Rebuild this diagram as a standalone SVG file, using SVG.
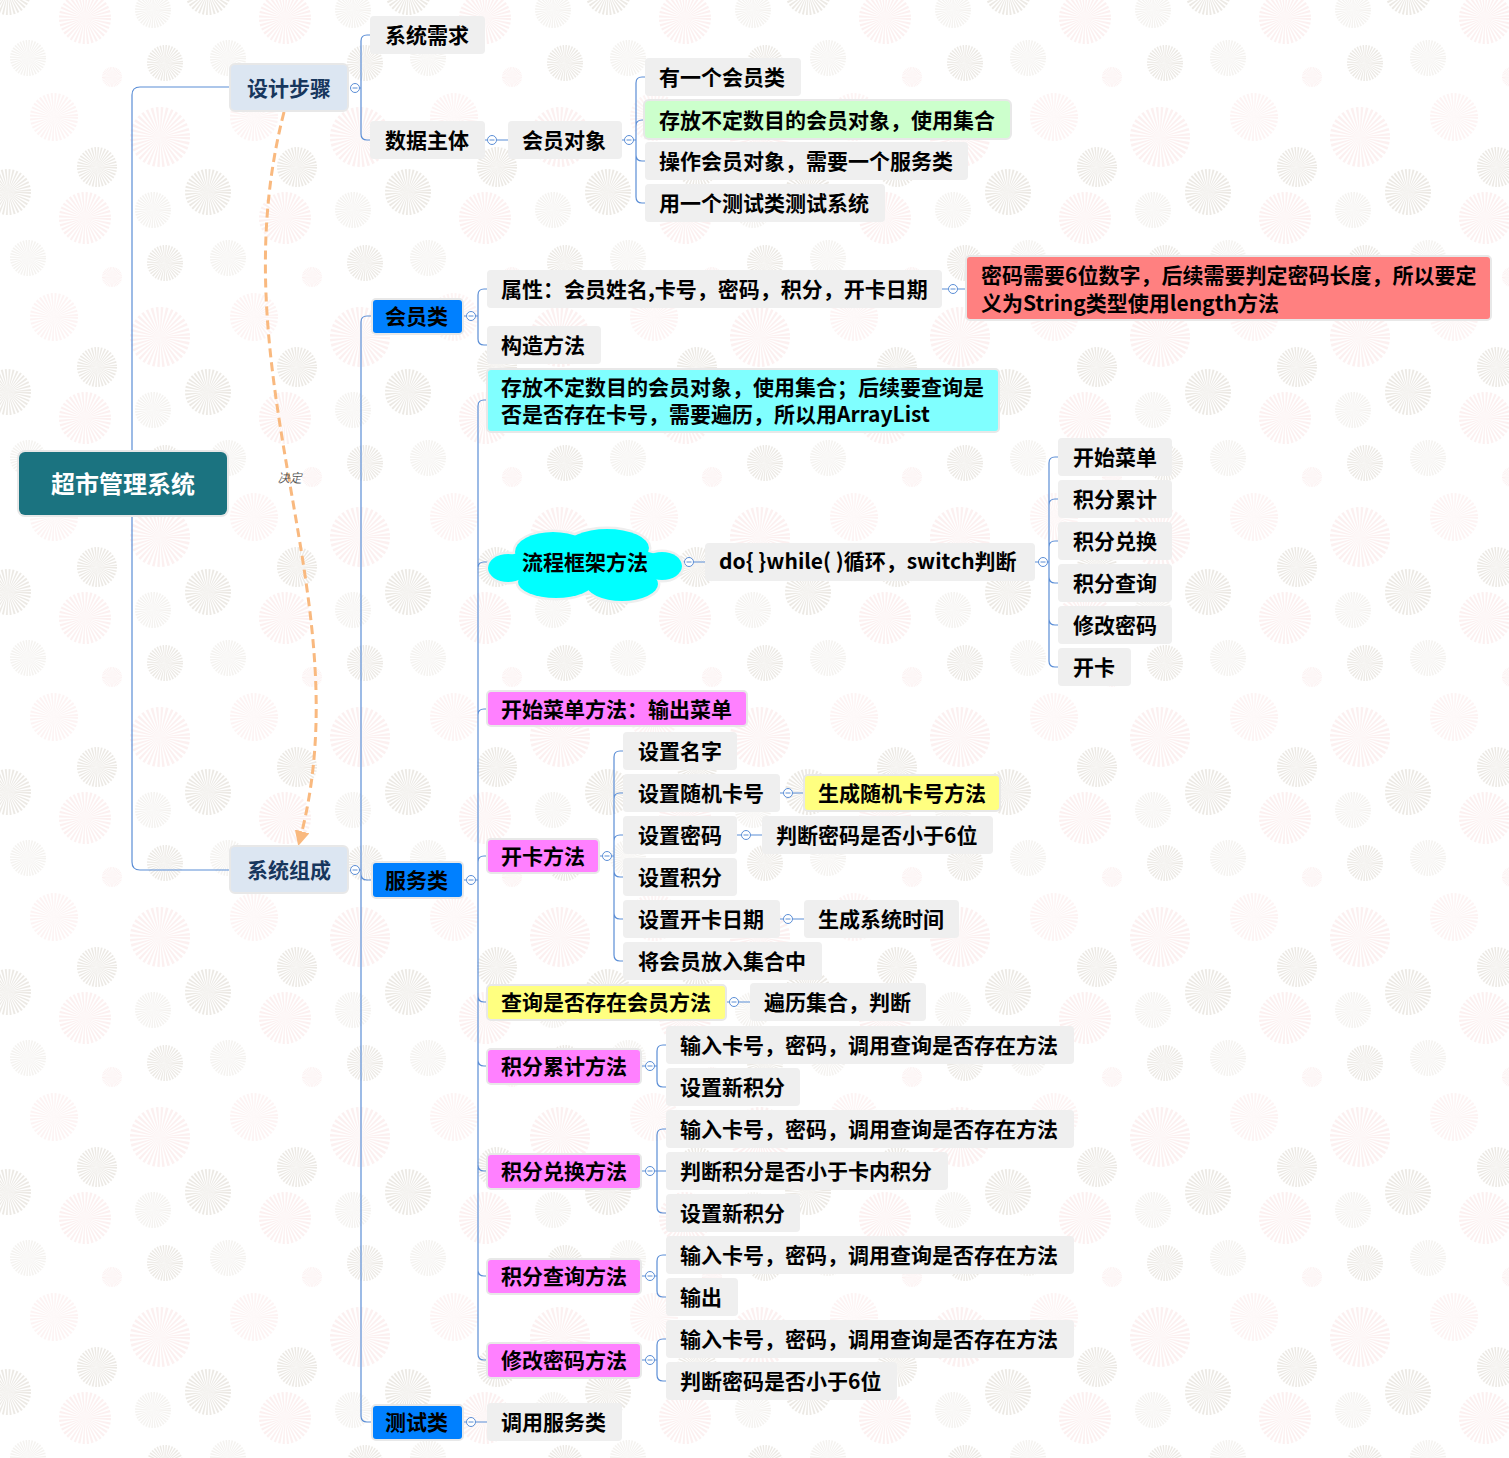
<svg xmlns="http://www.w3.org/2000/svg" xmlns:xlink="http://www.w3.org/1999/xlink" width="1509" height="1458" viewBox="0 0 1509 1458">
<style>
.t{font-family:"Noto Sans CJK SC","Microsoft YaHei",sans-serif;font-weight:700;font-size:21px;fill:#000}
.n{fill:#efefef}
.h{stroke:#e8e8e8;stroke-width:4;paint-order:stroke}
.conn path{fill:none;stroke:#5b8ed6;stroke-width:1.2}
.blue{fill:#0080ff}
.mag{fill:#ff80ff}
.yel{fill:#ffff80}
.step{fill:#dce6f2}
.stept{fill:#17365d}
</style>
<defs>
<circle id="b" r="10" fill="none" stroke-width="20" stroke-dasharray="0.87 0.875"/>
<pattern id="bg" patternUnits="userSpaceOnUse" width="200" height="200">
<rect width="200" height="200" fill="#fff"/>
<use href="#b" stroke="#fcf0f0" transform="translate(85,18) scale(1.3)"/>
<use href="#b" stroke="#fcf0f0" transform="translate(85,218) scale(1.3)"/>
<use href="#b" stroke="#f4f2ef" transform="translate(153,10) scale(0.9)"/>
<use href="#b" stroke="#f4f2ef" transform="translate(153,210) scale(0.9)"/>
<use href="#b" stroke="#ece9e4" transform="translate(8,192) scale(1.15)"/>
<use href="#b" stroke="#ece9e4" transform="translate(208,192) scale(1.15)"/>
<use href="#b" stroke="#ece9e4" transform="translate(8,-8) scale(1.15)"/>
<use href="#b" stroke="#ece9e4" transform="translate(208,-8) scale(1.15)"/>
<use href="#b" stroke="#f4f2ef" transform="translate(28,58) scale(0.9)"/>
<use href="#b" stroke="#fcf0f0" transform="translate(112,77) scale(0.5)"/>
<use href="#b" stroke="#ece9e4" transform="translate(165,63) scale(0.9)"/>
<use href="#b" stroke="#fdf3f3" transform="translate(54,117) scale(1.2)"/>
<use href="#b" stroke="#fcf0f0" transform="translate(160,137) scale(1.5)"/>
<use href="#b" stroke="#ece9e4" transform="translate(97,167) scale(1.0)"/>
</pattern>
<g id="coll"><circle r="4.5" fill="#fff" stroke="#5b8ed6" stroke-width="1"/><path d="M-2.5 0H2.5" stroke="#5b8ed6" stroke-width="1"/></g>
<marker id="arr" viewBox="0 0 10 10" refX="8" refY="5" markerWidth="5" markerHeight="5" orient="auto" markerUnits="strokeWidth">
<path d="M0 0L10 5L0 10z" fill="#f9b97f"/>
</marker>
</defs>
<rect width="1509" height="1458" fill="url(#bg)"/>

<g id="connectors" class="conn">
<path d="M132 483V95Q132 87 140 87H231M132 483V862Q132 870 140 870H231"/>
<path d="M359.5 88H361M361 88V41Q361 35 367 35H370M361 88V134Q361 140 367 140H370"/>
<path d="M485 140H487.5M496.5 140H508"/>
<path d="M622 140H624.5M633.5 140H636M636 140V83Q636 77 642 77H645M636 140V126Q636 120 642 120H645M636 140V155Q636 161 642 161H645M636 140V197Q636 203 642 203H645"/>
<path d="M359.5 870H361M361 870V322Q361 316 367 316H373M361 870V874Q361 880 367 880H373M361 870V1416Q361 1422 367 1422H373"/>
<path d="M462 316H466.5M475.5 316H478M478 316V295Q478 289 484 289H487M478 316V339Q478 345 484 345H487"/>
<path d="M942 289H948.5M957.5 289H967"/>
<path d="M462 880H466.5M475.5 880H478M478 880V406Q478 400 484 400H488M478 880V568Q478 562 484 562H492M478 880V715Q478 709 484 709H488M478 880V862Q478 856 484 856H488M478 880V996Q478 1002 484 1002H488M478 880V1060Q478 1066 484 1066H488M478 880V1165Q478 1171 484 1171H488M478 880V1270Q478 1276 484 1276H488M478 880V1354Q478 1360 484 1360H488"/>
<path d="M680 562H684.5M693.5 562H705"/>
<path d="M1035 562H1038.5M1047.5 562H1049M1049 562V463Q1049 457 1055 457H1058M1049 562V505Q1049 499 1055 499H1058M1049 562V547Q1049 541 1055 541H1058M1049 562V577Q1049 583 1055 583H1058M1049 562V619Q1049 625 1055 625H1058M1049 562V661Q1049 667 1055 667H1058"/>
<path d="M598 856H602.5M611.5 856H614M614 856V757Q614 751 620 751H623M614 856V799Q614 793 620 793H623M614 856V841Q614 835 620 835H623M614 856V871Q614 877 620 877H623M614 856V913Q614 919 620 919H623M614 856V955Q614 961 620 961H623"/>
<path d="M780 793H783.5M792.5 793H805"/>
<path d="M737 835H741.5M750.5 835H762"/>
<path d="M780 919H783.5M792.5 919H804"/>
<path d="M725 1002H729.5M738.5 1002H750"/>
<path d="M462 1422H466.5M475.5 1422H487"/>
<path d="M640 1066H645.5M654.5 1066H657M657 1066V1051Q657 1045 663 1045H666M657 1066V1081Q657 1087 663 1087H666"/>
<path d="M640 1171H645.5M654.5 1171H657M657 1171V1135Q657 1129 663 1129H666M657 1171H666M657 1171V1207Q657 1213 663 1213H666"/>
<path d="M640 1276H645.5M654.5 1276H657M657 1276V1261Q657 1255 663 1255H666M657 1276V1291Q657 1297 663 1297H666"/>
<path d="M640 1360H645.5M654.5 1360H657M657 1360V1345Q657 1339 663 1339H666M657 1360V1375Q657 1381 663 1381H666"/>
<path d="M284 112C215 380 365 600 299 843" style="stroke:#f9b97f;stroke-width:3;stroke-dasharray:9 5" marker-end="url(#arr)"/>
<text x="290" y="482" style="font-family:'Liberation Sans',sans-serif;font-size:12px;font-style:italic;fill:#555;stroke:none" text-anchor="middle">决定</text>
</g>

<g id="collapse">
<use href="#coll" x="355" y="88"/>
<use href="#coll" x="492" y="140"/>
<use href="#coll" x="629" y="140"/>
<use href="#coll" x="355" y="870"/>
<use href="#coll" x="471" y="316"/>
<use href="#coll" x="953" y="289"/>
<use href="#coll" x="471" y="880"/>
<use href="#coll" x="689" y="562"/>
<use href="#coll" x="1043" y="562"/>
<use href="#coll" x="607" y="856"/>
<use href="#coll" x="788" y="793"/>
<use href="#coll" x="746" y="835"/>
<use href="#coll" x="788" y="919"/>
<use href="#coll" x="734" y="1002"/>
<use href="#coll" x="471" y="1422"/>
<use href="#coll" x="650" y="1066"/>
<use href="#coll" x="650" y="1171"/>
<use href="#coll" x="650" y="1276"/>
<use href="#coll" x="650" y="1360"/>
</g>

<g id="root"><rect x="19" y="452" width="208" height="63" rx="6" fill="#1b7380" class="h"/><text class="t" x="123" y="493" text-anchor="middle" style="font-size:24px;fill:#fff">超市管理系统</text></g>

<g id="n-sheji"><rect x="231" y="65" width="116" height="45" rx="4" class="step h"/><text class="t stept" x="247" y="96">设计步骤</text></g>
<g id="n-zucheng"><rect x="231" y="847" width="116" height="45" rx="4" class="step h"/><text class="t stept" x="247" y="878">系统组成</text></g>

<g id="n-xuqiu"><rect x="370" y="16" width="115" height="38" rx="4" class="n"/><text class="t" x="385" y="43">系统需求</text></g>
<g id="n-zhuti"><rect x="370" y="121" width="115" height="38" rx="4" class="n"/><text class="t" x="385" y="148">数据主体</text></g>
<g id="n-duixiang"><rect x="508" y="121" width="114" height="38" rx="4" class="n"/><text class="t" x="522" y="148">会员对象</text></g>
<g id="n-d1"><rect x="645" y="58" width="156" height="38" rx="4" class="n"/><text class="t" x="659" y="85">有一个会员类</text></g>
<g id="n-d2"><rect x="645" y="101" width="365" height="37" rx="4" fill="#ccffcc" class="h"/><text class="t" x="659" y="128">存放不定数目的会员对象，使用集合</text></g>
<g id="n-d3"><rect x="645" y="142" width="323" height="38" rx="4" class="n"/><text class="t" x="659" y="169">操作会员对象，需要一个服务类</text></g>
<g id="n-d4"><rect x="645" y="184" width="240" height="38" rx="4" class="n"/><text class="t" x="659" y="211">用一个测试类测试系统</text></g>

<g id="n-huiyuanlei"><rect x="373" y="300" width="89" height="33" rx="3" class="blue h"/><text class="t" x="385" y="324">会员类</text></g>
<g id="n-shuxing"><rect x="487" y="270" width="455" height="38" rx="4" class="n"/><text class="t" x="501" y="297">属性：会员姓名,卡号，密码，积分，开卡日期</text></g>
<g id="n-note"><rect x="967" y="257" width="523" height="62" rx="3" fill="#ff8080" class="h"/><text class="t" x="981" y="283">密码需要6位数字，后续需要判定密码长度，所以要定</text><text class="t" x="981" y="311">义为String类型使用length方法</text></g>
<g id="n-gouzao"><rect x="487" y="326" width="114" height="38" rx="4" class="n"/><text class="t" x="501" y="353">构造方法</text></g>

<g id="n-fuwulei"><rect x="373" y="863" width="89" height="34" rx="3" class="blue h"/><text class="t" x="385" y="888">服务类</text></g>
<g id="n-cyan"><rect x="488" y="370" width="510" height="61" rx="3" fill="#80ffff" class="h"/><text class="t" x="501" y="395">存放不定数目的会员对象，使用集合；后续要查询是</text><text class="t" x="501" y="422">否是否存在卡号，需要遍历，所以用ArrayList</text></g>

<g id="n-cloud">
<g fill="#eeeeee" stroke="#eeeeee" stroke-width="5">
<ellipse cx="585" cy="566" rx="88" ry="20"/><ellipse cx="553" cy="552" rx="38" ry="20"/><ellipse cx="607" cy="548" rx="42" ry="19"/><ellipse cx="556" cy="582" rx="38" ry="16"/><ellipse cx="622" cy="584" rx="36" ry="17"/><ellipse cx="508" cy="568" rx="20" ry="14"/><ellipse cx="662" cy="566" rx="20" ry="14"/>
</g>
<g fill="#00ffff">
<ellipse cx="585" cy="566" rx="88" ry="20"/><ellipse cx="553" cy="552" rx="38" ry="20"/><ellipse cx="607" cy="548" rx="42" ry="19"/><ellipse cx="556" cy="582" rx="38" ry="16"/><ellipse cx="622" cy="584" rx="36" ry="17"/><ellipse cx="508" cy="568" rx="20" ry="14"/><ellipse cx="662" cy="566" rx="20" ry="14"/>
</g>
<text class="t" x="585" y="570" text-anchor="middle">流程框架方法</text>
</g>
<g id="n-dowhile"><rect x="705" y="543" width="330" height="38" rx="4" class="n"/><text class="t" x="719" y="569">do{ }while( )循环，switch判断</text></g>
<g id="n-m1"><rect x="1058" y="438" width="114" height="38" rx="4" class="n"/><text class="t" x="1073" y="465">开始菜单</text></g>
<g id="n-m2"><rect x="1058" y="480" width="114" height="38" rx="4" class="n"/><text class="t" x="1073" y="507">积分累计</text></g>
<g id="n-m3"><rect x="1058" y="522" width="114" height="38" rx="4" class="n"/><text class="t" x="1073" y="549">积分兑换</text></g>
<g id="n-m4"><rect x="1058" y="564" width="114" height="38" rx="4" class="n"/><text class="t" x="1073" y="591">积分查询</text></g>
<g id="n-m5"><rect x="1058" y="606" width="114" height="38" rx="4" class="n"/><text class="t" x="1073" y="633">修改密码</text></g>
<g id="n-m6"><rect x="1058" y="648" width="73" height="38" rx="4" class="n"/><text class="t" x="1073" y="675">开卡</text></g>

<g id="n-menu"><rect x="488" y="692" width="258" height="33" rx="3" class="mag h"/><text class="t" x="501" y="717">开始菜单方法：输出菜单</text></g>
<g id="n-kaika"><rect x="488" y="840" width="110" height="32" rx="3" class="mag h"/><text class="t" x="501" y="864">开卡方法</text></g>
<g id="n-k1"><rect x="623" y="732" width="114" height="38" rx="4" class="n"/><text class="t" x="638" y="759">设置名字</text></g>
<g id="n-k2"><rect x="623" y="774" width="157" height="38" rx="4" class="n"/><text class="t" x="638" y="801">设置随机卡号</text></g>
<g id="n-k2a"><rect x="805" y="776" width="194" height="34" rx="3" class="yel h"/><text class="t" x="818" y="801">生成随机卡号方法</text></g>
<g id="n-k3"><rect x="623" y="816" width="114" height="38" rx="4" class="n"/><text class="t" x="638" y="843">设置密码</text></g>
<g id="n-k3a"><rect x="762" y="816" width="231" height="38" rx="4" class="n"/><text class="t" x="776" y="843">判断密码是否小于6位</text></g>
<g id="n-k4"><rect x="623" y="858" width="114" height="38" rx="4" class="n"/><text class="t" x="638" y="885">设置积分</text></g>
<g id="n-k5"><rect x="623" y="900" width="157" height="38" rx="4" class="n"/><text class="t" x="638" y="927">设置开卡日期</text></g>
<g id="n-k5a"><rect x="804" y="900" width="155" height="38" rx="4" class="n"/><text class="t" x="818" y="927">生成系统时间</text></g>
<g id="n-k6"><rect x="623" y="942" width="199" height="38" rx="4" class="n"/><text class="t" x="638" y="969">将会员放入集合中</text></g>

<g id="n-chaxun"><rect x="488" y="986" width="237" height="33" rx="3" class="yel h"/><text class="t" x="501" y="1010">查询是否存在会员方法</text></g>
<g id="n-chaxuna"><rect x="750" y="983" width="176" height="38" rx="4" class="n"/><text class="t" x="764" y="1010">遍历集合，判断</text></g>

<g id="n-leiji"><rect x="488" y="1050" width="152" height="33" rx="3" class="mag h"/><text class="t" x="501" y="1074">积分累计方法</text></g>
<g id="n-leiji1"><rect x="666" y="1026" width="408" height="38" rx="4" class="n"/><text class="t" x="680" y="1053">输入卡号，密码，调用查询是否存在方法</text></g>
<g id="n-leiji2"><rect x="666" y="1068" width="134" height="38" rx="4" class="n"/><text class="t" x="680" y="1095">设置新积分</text></g>

<g id="n-duihuan"><rect x="488" y="1155" width="152" height="33" rx="3" class="mag h"/><text class="t" x="501" y="1179">积分兑换方法</text></g>
<g id="n-duihuan1"><rect x="666" y="1110" width="408" height="38" rx="4" class="n"/><text class="t" x="680" y="1137">输入卡号，密码，调用查询是否存在方法</text></g>
<g id="n-duihuan2"><rect x="666" y="1152" width="282" height="38" rx="4" class="n"/><text class="t" x="680" y="1179">判断积分是否小于卡内积分</text></g>
<g id="n-duihuan3"><rect x="666" y="1194" width="134" height="38" rx="4" class="n"/><text class="t" x="680" y="1221">设置新积分</text></g>

<g id="n-chaxunjf"><rect x="488" y="1260" width="152" height="33" rx="3" class="mag h"/><text class="t" x="501" y="1284">积分查询方法</text></g>
<g id="n-chaxunjf1"><rect x="666" y="1236" width="408" height="38" rx="4" class="n"/><text class="t" x="680" y="1263">输入卡号，密码，调用查询是否存在方法</text></g>
<g id="n-chaxunjf2"><rect x="666" y="1278" width="72" height="38" rx="4" class="n"/><text class="t" x="680" y="1305">输出</text></g>

<g id="n-xiugai"><rect x="488" y="1344" width="152" height="33" rx="3" class="mag h"/><text class="t" x="501" y="1368">修改密码方法</text></g>
<g id="n-xiugai1"><rect x="666" y="1320" width="408" height="38" rx="4" class="n"/><text class="t" x="680" y="1347">输入卡号，密码，调用查询是否存在方法</text></g>
<g id="n-xiugai2"><rect x="666" y="1362" width="231" height="38" rx="4" class="n"/><text class="t" x="680" y="1389">判断密码是否小于6位</text></g>

<g id="n-ceshilei"><rect x="373" y="1406" width="89" height="33" rx="3" class="blue h"/><text class="t" x="385" y="1430">测试类</text></g>
<g id="n-diaoyong"><rect x="487" y="1403" width="135" height="38" rx="4" class="n"/><text class="t" x="501" y="1430">调用服务类</text></g>
</svg>
